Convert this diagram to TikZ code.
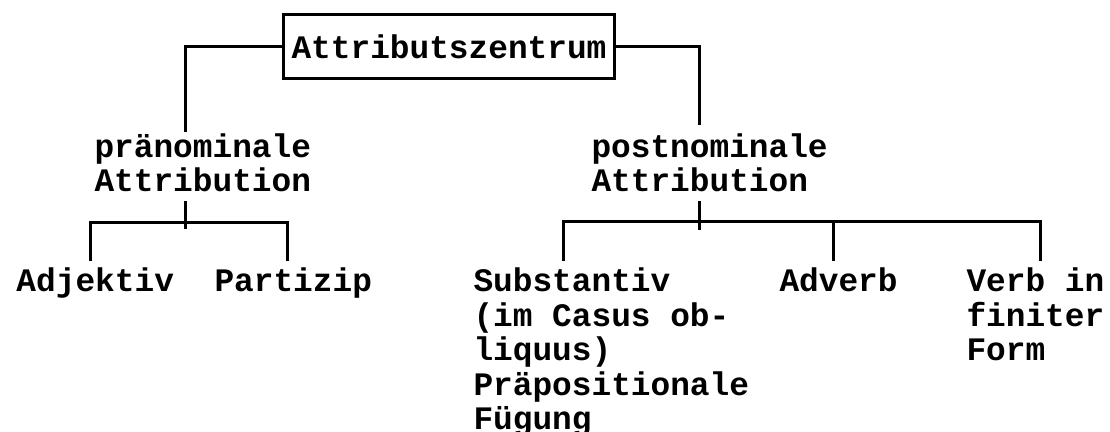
\documentclass[tikz,border=0pt]{standalone}
\usepackage{fontspec}
\setmonofont{Liberation Mono}
\usetikzlibrary{positioning}

\begin{document}
\begin{tikzpicture}[
    x=0.5pt,
    y=-0.5pt,
    font=\ttfamily\bfseries\fontsize{16.4}{17.25}\selectfont,
    line width=1.5pt,
    lbl/.style={
        inner sep=0pt,
        align=left,
        anchor=base west
    },
    zentrum/.style={
        draw,
        line width=1.5pt,
        inner xsep=4pt,
        inner ysep=0pt,
        minimum height=32pt
    }
]
\useasboundingbox (0,0) rectangle (1110,432);

% top
\node[zentrum] (zentrum) at (449,47) {Attributszentrum};

% second row (anchored at the last line)
\node[lbl] (pre) at (93,192) {pränominale\\Attribution};
\node[lbl] (post) at (590,192) {postnominale\\Attribution};

% leaves
\node[lbl] (adj) at (15,292) {Adjektiv};
\node[lbl] (part) at (213,292) {Partizip};
\node[lbl] (subst) at (472,430) {Substantiv\\(im Casus ob-\\liquus)\\Präpositionale\\Fügung};
\node[lbl] (adv) at (778,292) {Adverb};
\node[lbl] (verb) at (965,361) {Verb in\\finiter\\Form};

\draw (zentrum.west) -| ([xshift=-8.5pt]pre.north);
\draw (zentrum.east) -| ([xshift=-5pt,yshift=3.5pt]post.north);

% left branch
\draw ([xshift=-8.5pt,yshift=-3.5pt]pre.south) -- ++(0,28);
\draw ([xshift=-2.5pt,yshift=3pt]adj.north) -- ++(0,-38) -| ([xshift=-3pt,yshift=3pt]part.north);

% right branch
\draw ([xshift=-5pt,yshift=-3.5pt]post.south) -- ++(0,29);
\draw ([xshift=45.5pt,yshift=3pt]subst.north west) -- ++(0,-39) -| ([xshift=2.5pt,yshift=3pt]verb.north);
\draw ([xshift=-2.75pt,yshift=3pt]adv.north) -- ++(0,-39);

\end{tikzpicture}
\end{document}
